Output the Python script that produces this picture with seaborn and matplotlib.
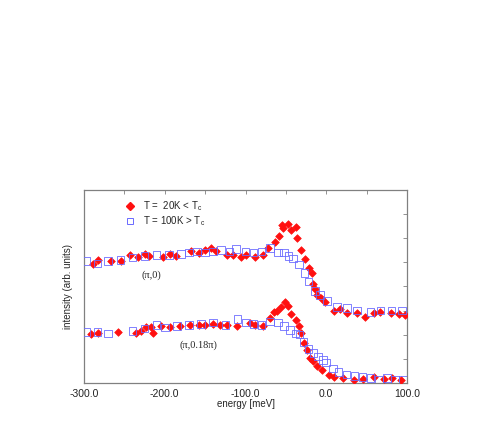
import numpy as np
import pandas as pd
import seaborn as sns
import matplotlib.pyplot as plt

sns.set_theme(style="white")
plt.rcParams['font.family'] = ['Liberation Sans', 'DejaVu Sans']

# (pi,0) - T = 20K (rojo)
e_up_20 = [-289, -283, -266, -254, -243, -233, -225, -219, -202, -194, -186, -167, -158, -150,
           -143, -136, -123, -115, -105, -99, -88, -78, -72, -64, -58, -55, -53, -47, -44, -38,
           -36, -31, -26, -22, -18, -16, -14, -12, -7, -1, 9, 17, 26, 38, 48, 59, 67, 80, 90, 98]
i_up_20 = [4.92, 5.1, 5.05, 5.05, 5.3, 5.2, 5.35, 5.25, 5.2, 5.35, 5.25, 5.45, 5.4, 5.5,
           5.6, 5.45, 5.3, 5.3, 5.2, 5.3, 5.2, 5.3, 5.6, 5.85, 6.1, 6.55, 6.4, 6.6, 6.35, 6.45,
           6.0, 5.5, 5.15, 4.75, 4.55, 4.1, 3.9, 3.65, 3.5, 3.35, 3.0, 3.05, 2.9, 2.9, 2.75,
           2.9, 2.95, 2.9, 2.85, 2.8]

# (pi,0) - T = 100K (azul)
e_up_100 = [-297, -283, -270, -255, -240, -225, -210, -195, -180, -170, -160, -150, -140, -130,
            -120, -112, -100, -90, -80, -70, -60, -52, -47, -41, -34, -27, -22, -14, -8, 1, 13,
            26, 38, 55, 67, 81, 94]
i_up_100 = [5.05, 4.95, 5.05, 5.1, 5.2, 5.25, 5.3, 5.3, 5.35, 5.4, 5.45, 5.4, 5.45, 5.5,
            5.45, 5.55, 5.45, 5.4, 5.45, 5.6, 5.4, 5.4, 5.25, 5.15, 4.9, 4.55, 4.2, 3.8, 3.65,
            3.4, 3.15, 3.1, 3.0, 2.95, 3.0, 3.0, 3.0]

# (pi,0.18pi) - T = 20K (rojo)
e_lo_20 = [-291, -283, -258, -235, -229, -223, -217, -215, -204, -194, -181, -169, -158, -150,
           -140, -132, -123, -111, -95, -88, -78, -70, -65, -61, -56, -51, -47, -44, -38, -34,
           -31, -27, -24, -20, -16, -12, -5, 3, 9, 21, 34, 46, 59, 71, 81, 92]
i_lo_20 = [2.03, 2.05, 2.1, 2.05, 2.15, 2.3, 2.3, 2.05, 2.35, 2.3, 2.35, 2.4, 2.4, 2.4,
           2.45, 2.4, 2.4, 2.35, 2.5, 2.4, 2.35, 2.7, 2.95, 3.0, 3.15, 3.35, 3.2, 2.85, 2.6,
           2.35, 2.05, 1.65, 1.35, 1.05, 0.9, 0.7, 0.55, 0.35, 0.25, 0.2, 0.12, 0.15, 0.25,
           0.15, 0.2, 0.12]

# (pi,0.18pi) - T = 100K (azul)
e_lo_100 = [-297, -283, -270, -240, -225, -210, -200, -185, -170, -155, -140, -125, -110, -100,
            -90, -80, -70, -60, -52, -45, -38, -33, -28, -22, -16, -10, -4, 0, 8, 15, 25, 35,
            45, 55, 65, 75, 85, 95]
i_lo_100 = [2.1, 2.1, 2.05, 2.15, 2.25, 2.4, 2.3, 2.35, 2.4, 2.45, 2.5, 2.4, 2.65, 2.5,
            2.45, 2.4, 2.55, 2.5, 2.35, 2.2, 2.05, 2.0, 1.7, 1.4, 1.25, 1.1, 0.95, 0.85, 0.6,
            0.45, 0.35, 0.3, 0.25, 0.2, 0.15, 0.2, 0.15, 0.15]

fig = plt.figure(figsize=(4.91, 4.36), dpi=100)
ax = fig.add_axes([0.171, 0.1216, 0.658, 0.443])

rojo = '#ff1010'
azul = '#6a6aff'

for e, i in [(e_up_20, i_up_20), (e_lo_20, i_lo_20)]:
    sns.scatterplot(x=e, y=i, ax=ax, marker='D', s=15, color=rojo, edgecolor=rojo,
                    linewidth=0.5, zorder=3)
for e, i in [(e_up_100, i_up_100), (e_lo_100, i_lo_100)]:
    sns.scatterplot(x=e, y=i, ax=ax, marker='s', s=30, facecolor='none', edgecolor=azul,
                    linewidth=0.7, alpha=0.85, zorder=4)

ax.set_xlim(-300, 100)
ax.set_ylim(0, 8)
ax.set_xticks(np.arange(-300, 101, 100))
ax.set_xticks(np.arange(-300, 101, 50), minor=True)
ax.set_xticklabels(['-300.0', '-200.0', '-100.0', '0.0', '100.0'])
ax.set_yticks(np.arange(0, 9, 1))
ax.set_yticklabels([])
ax.tick_params(axis='both', which='both', direction='in', top=True, right=True,
               length=3, width=0.6, color='#808080', labelsize=7.5, pad=4)
ax.tick_params(axis='x', which='major', labelcolor='#222222')
for s in ax.spines.values():
    s.set_color('#808080')
    s.set_linewidth(0.9)

ax.set_xlabel('energy [meV]', fontsize=7, labelpad=0)
ax.set_ylabel('intensity (arb. units)', fontsize=7, labelpad=4)

serif = ['Liberation Serif', 'DejaVu Serif']
ax.text(-216, 4.45, '(π,0)', fontsize=7.5, family=serif, ha='center', va='center')
ax.text(-158, 1.58, '(π,0.18π)', fontsize=7.5, family=serif, ha='center', va='center')

h1 = plt.Line2D([], [], ls='none', marker='D', ms=4, color=rojo)
h2 = plt.Line2D([], [], ls='none', marker='s', ms=5, mfc='none', mec=azul, mew=0.7)
ax.legend([h1, h2], [r'T =  20K < T$_\mathregular{c}$', r'T = 100K > T$_\mathregular{c}$'],
          loc='upper left', bbox_to_anchor=(0.1, 0.97), frameon=False, fontsize=7,
          handletextpad=0.3, labelspacing=0.1, borderaxespad=0)

plt.savefig('out.png', dpi=100)
